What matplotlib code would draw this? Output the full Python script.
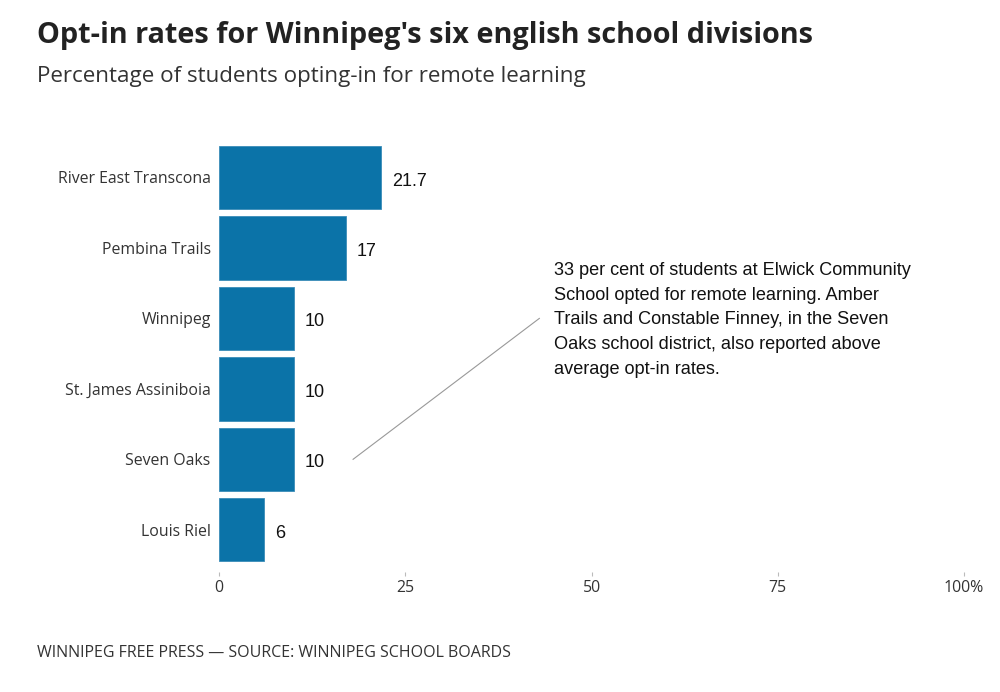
import matplotlib.pyplot as plt

divisions = ["River East Transcona", "Pembina Trails", "Winnipeg",
             "St. James Assiniboia", "Seven Oaks", "Louis Riel"]
opt_in = [21.7, 17, 10, 10, 10, 6]
value_labels = ["21.7", "17", "10", "10", "10", "6"]
x_ticks = [0, 25, 50, 75, 100]
x_tick_labels = ["0", "25", "50", "75", "100%"]

note = ("33 per cent of students at Elwick Community\n"
        "School opted for remote learning. Amber\n"
        "Trails and Constable Finney, in the Seven\n"
        "Oaks school district, also reported above\n"
        "average opt-in rates.")

bar_color = "#0b73a8"

fig = plt.figure(figsize=(10, 6.92), dpi=100)
ax = fig.add_axes([0.219, 0.1734, 0.745, 0.621])

ypos = list(range(len(divisions)))
ax.barh(ypos, opt_in, height=0.9, color=bar_color, edgecolor="#3a8cb8", linewidth=0.6)
ax.set_ylim(len(divisions) - 0.4, -0.5)
ax.set_xlim(0, 100)

for y, v, lab in zip(ypos, opt_in, value_labels):
    ax.text(v + 1.5, y + 0.05, lab, va="center", ha="left", fontsize=13,
            family="Liberation Sans", color="#111111")

ax.set_yticks(ypos)
ax.set_yticklabels(divisions, fontsize=11.4, family="Open Sans", color="#333333")
ax.tick_params(axis="y", length=0, pad=6)
ax.set_xticks(x_ticks)
ax.set_xticklabels(x_tick_labels, fontsize=11.4, family="Open Sans", color="#333333")
ax.tick_params(axis="x", length=3, color="#bbbbbb", width=0.8, pad=3)
ax.xaxis.set_ticks_position("bottom")
for s in ax.spines.values():
    s.set_visible(False)

# annotation line and note
ax.plot([18, 43], [4, 2], color="#999999", linewidth=0.8, clip_on=False)
ax.text(45.0, 2.02, note, va="center", ha="left", fontsize=13.1,
        family="Liberation Sans", color="#111111", linespacing=1.6)

fig.text(0.037, 0.948, "Opt-in rates for Winnipeg's six english school divisions",
         fontsize=20.8, fontweight="bold", family="Open Sans", color="#222222", va="center")
fig.text(0.037, 0.889, "Percentage of students opting-in for remote learning",
         fontsize=16.1, family="Open Sans", color="#333333", va="center")
fig.text(0.037, 0.056, "WINNIPEG FREE PRESS \u2014 SOURCE: WINNIPEG SCHOOL BOARDS",
         fontsize=11.5, family="Open Sans", color="#333333", va="center")

fig.savefig("out.png", dpi=100, facecolor="white")
